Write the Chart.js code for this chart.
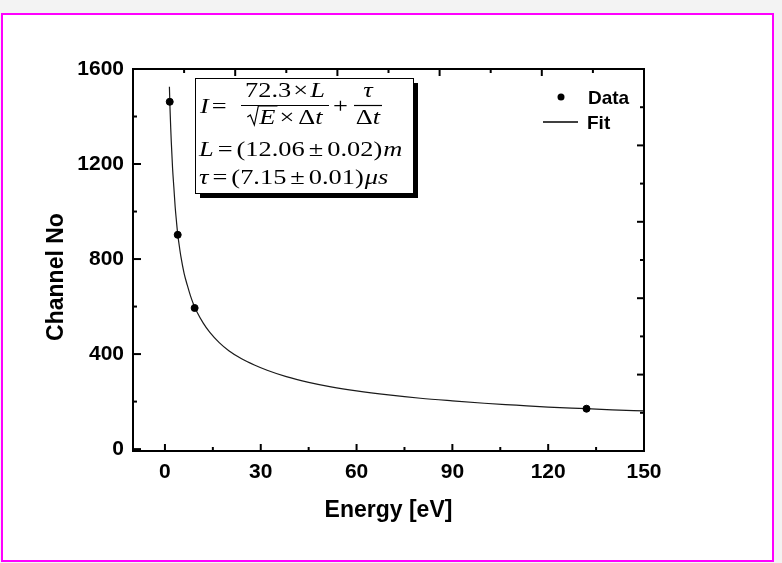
<!DOCTYPE html>
<html>
<head>
<meta charset="utf-8">
<script src="https://cdn.jsdelivr.net/npm/chart.js@4.4.1/dist/chart.umd.min.js"></script>
<style>
  html, body { margin: 0; padding: 0; background: #f3f3f3; }
  #wrap { position: relative; width: 782px; height: 563px; overflow: hidden; }
  #frame { position: absolute; left: 1px; top: 13px; width: 769px; height: 545px; border: 2px solid #ff00ff; background: #fff; }
  #chart { position: absolute; left: 0; top: 0; }
</style>
</head>
<body>
<div id="wrap">
  <div id="frame"></div>
  <canvas id="chart" width="782" height="563"></canvas>
</div>
<script>
// measured points
const energyData = [1.5, 4.0, 9.3, 132];
const channelData = [1462, 902, 594, 170];

// fit curve
const fitEnergy = [1.4, 1.6, 1.8, 2.0, 2.4, 2.8, 3.2, 3.6, 4.0, 4.5, 5, 6, 7, 8, 9, 10, 12, 14, 17, 20,
  24, 28, 32, 38, 45, 52, 60, 70, 80, 90, 100, 110, 120, 132, 140, 150];
const fitChannel = [1525, 1430, 1355, 1290, 1180, 1100, 1020, 960, 905, 855, 810, 740, 690, 645, 608, 578, 530, 492, 448, 414,
  380, 354, 332, 305, 281, 262, 245, 228, 214, 203, 193, 185, 177, 170, 165, 161];

// axis ticks
const xMajorTicks = [0, 30, 60, 90, 120, 150];
const xMinorTicks = [15, 45, 75, 105, 135];
const yMajorTicks = [0, 400, 800, 1200, 1600];
const yMinorTicks = [200, 600, 1000, 1400];

const toXY = (xs, ys) => xs.map((x, i) => ({ x: x, y: ys[i] }));

const SANS = '"Liberation Sans", Arial, sans-serif';
const SERIF = '"Liberation Serif", "Times New Roman", serif';
const FS = 22, SX = 1.2;

function setFont(ctx, it) { ctx.font = (it ? 'italic ' : '') + FS + 'px ' + SERIF; }
function textW(ctx, t, it) { setFont(ctx, it); return ctx.measureText(t).width * SX; }
function drawT(ctx, t, it, x, y) {
  setFont(ctx, it);
  ctx.save(); ctx.translate(x, y); ctx.scale(SX, 1); ctx.fillText(t, 0, 0); ctx.restore();
}
function runsW(ctx, runs) { return runs.reduce((s, r) => s + textW(ctx, r[0], r[1]) + (r[2] || 0), 0); }
function drawRuns(ctx, runs, x, y) {
  runs.forEach(r => { drawT(ctx, r[0], r[1], x, y); x += textW(ctx, r[0], r[1]) + (r[2] || 0); });
  return x;
}
function line(ctx, x1, y1, x2, y2) { ctx.beginPath(); ctx.moveTo(x1, y1); ctx.lineTo(x2, y2); ctx.stroke(); }

const decor = {
  id: 'decor',
  afterDraw(chart) {
    const { ctx, chartArea: a, scales } = chart;
    const sx = scales.x, sy = scales.y, tx = scales.x2, ry = scales.y2;
    ctx.save();
    ctx.strokeStyle = '#000';
    ctx.fillStyle = '#000';

    // plot frame
    ctx.lineWidth = 2;
    ctx.strokeRect(a.left, a.top, a.right - a.left, a.bottom - a.top);

    // inward ticks, bottom and left
    xMajorTicks.forEach(v => { const p = sx.getPixelForValue(v); line(ctx, p, a.bottom, p, a.bottom - 7); });
    xMinorTicks.forEach(v => { const p = sx.getPixelForValue(v); line(ctx, p, a.bottom, p, a.bottom - 4); });
    yMajorTicks.forEach(v => { const p = sy.getPixelForValue(v); line(ctx, a.left, p, a.left + 8, p); });
    yMinorTicks.forEach(v => { const p = sy.getPixelForValue(v); line(ctx, a.left, p, a.left + 4, p); });
    // top and right axes have their own divisions
    for (let v = 1; v < 10; v++) {
      const len = v % 2 === 0 ? 7 : 4;
      const px = tx.getPixelForValue(v);
      line(ctx, px, a.top, px, a.top + len);
      const py = ry.getPixelForValue(v);
      line(ctx, a.right, py, a.right - len, py);
    }

    // axis titles
    ctx.font = 'bold 23px ' + SANS;
    ctx.textAlign = 'center';
    ctx.textBaseline = 'alphabetic';
    ctx.fillText('Energy [eV]', (a.left + a.right) / 2, 517);
    ctx.save();
    ctx.translate(63, 277);
    ctx.rotate(-Math.PI / 2);
    ctx.fillText('Channel No', 0, 0);
    ctx.restore();

    // legend
    ctx.textAlign = 'left';
    ctx.font = 'bold 19px ' + SANS;
    ctx.beginPath(); ctx.arc(a.right - 83, a.top + 28, 3.5, 0, Math.PI * 2); ctx.fill();
    ctx.fillText('Data', a.right - 56, a.top + 35);
    ctx.lineWidth = 1.5;
    line(ctx, a.right - 101, a.top + 53, a.right - 66, a.top + 53);
    ctx.fillText('Fit', a.right - 57, a.top + 60);

    // formula box with shadow
    const bx = a.left + 62, by = a.top + 9, bw = 218, bh = 115;
    ctx.fillRect(bx + 5, by + 5, bw, bh);
    ctx.fillStyle = '#fff';
    ctx.fillRect(bx, by, bw, bh);
    ctx.lineWidth = 1;
    ctx.strokeRect(bx + 0.5, by + 0.5, bw, bh);
    ctx.fillStyle = '#000';

    // I = 72.3 x L / (sqrt(E) x dt) + tau / dt
    drawRuns(ctx, [['I', true, 3], ['=', false, 0]], bx + 5, by + 35);
    const c1 = bx + 90;
    const num1 = [['72.3', false, 2], ['\u00d7', false, 2], ['L', true, 0]];
    drawRuns(ctx, num1, c1 - runsW(ctx, num1) / 2, by + 19);
    ctx.lineWidth = 1.2;
    line(ctx, bx + 46, by + 27.5, bx + 134, by + 27.5);
    const den1 = [['E', true, 4], ['\u00d7', false, 4], ['\u0394', false, 0], ['t', true, 0]];
    const d1w = runsW(ctx, den1) + 12;
    let dx = c1 - d1w / 2;
    const eW = textW(ctx, 'E', true);
    const dy = by + 46;
    ctx.beginPath();
    ctx.moveTo(dx, dy - 7); ctx.lineTo(dx + 3, dy - 9); ctx.lineTo(dx + 7, dy + 1);
    ctx.lineTo(dx + 11, dy - 18); ctx.lineTo(dx + 12 + eW + 2, dy - 18);
    ctx.stroke();
    drawRuns(ctx, den1, dx + 12, dy);
    drawT(ctx, '+', false, bx + 138, by + 35);
    const c2 = bx + 173;
    line(ctx, bx + 159, by + 27.5, bx + 187, by + 27.5);
    drawT(ctx, '\u03c4', true, c2 - textW(ctx, '\u03c4', true) / 2, by + 19);
    const den2 = [['\u0394', false, 0], ['t', true, 0]];
    drawRuns(ctx, den2, c2 - runsW(ctx, den2) / 2, dy);

    // parameters
    drawRuns(ctx, [['L', true, 4], ['=', false, 4], ['(12.06', false, 4], ['\u00b1', false, 4], ['0.02)', false, 1], ['m', true, 0]], bx + 4, by + 78);
    drawRuns(ctx, [['\u03c4', true, 4], ['=', false, 4], ['(7.15', false, 4], ['\u00b1', false, 4], ['0.01)', false, 1], ['\u03bcs', true, 0]], bx + 4, by + 106);

    ctx.restore();
  }
};

new Chart(document.getElementById('chart'), {
  type: 'scatter',
  data: {
    datasets: [{
      label: 'Data',
      data: toXY(energyData, channelData),
      xAxisID: 'x',
      yAxisID: 'y',
      backgroundColor: '#000',
      borderColor: '#000',
      pointRadius: 3.5,
      pointHoverRadius: 3.5
    }, {
      label: 'Fit',
      data: toXY(fitEnergy, fitChannel),
      xAxisID: 'x',
      yAxisID: 'y',
      showLine: true,
      pointRadius: 0,
      borderColor: '#1a1a1a',
      borderWidth: 1.2,
      cubicInterpolationMode: 'monotone'
    }]
  },
  options: {
    responsive: false,
    animation: false,
    layout: { padding: { top: 69, right: 138, left: 0, bottom: 0 } },
    plugins: {
      legend: { display: false },
      tooltip: { enabled: false }
    },
    scales: {
      x: {
        type: 'linear',
        position: 'bottom',
        min: -10,
        max: 150,
        afterBuildTicks: s => { s.ticks = xMajorTicks.map(v => ({ value: v })); },
        afterFit: s => { s.height = 112; },
        grid: { display: false, drawTicks: false },
        border: { display: false },
        ticks: {
          autoSkip: false,
          maxRotation: 0,
          padding: 9,
          color: '#000',
          callback: v => String(v),
          font: { family: SANS, size: 21, weight: 'bold' }
        }
      },
      y: {
        type: 'linear',
        position: 'left',
        min: -8,
        max: 1600,
        afterBuildTicks: s => { s.ticks = yMajorTicks.map(v => ({ value: v })); },
        afterFit: s => { s.width = 133; },
        grid: { display: false, drawTicks: false },
        border: { display: false },
        ticks: {
          padding: 9,
          color: '#000',
          callback: v => String(v),
          font: { family: SANS, size: 21, weight: 'bold' }
        }
      },
      x2: { type: 'linear', position: 'top', min: 0, max: 10, display: false },
      y2: { type: 'linear', position: 'right', min: 0, max: 10, display: false }
    }
  },
  plugins: [decor]
});
</script>
</body>
</html>
